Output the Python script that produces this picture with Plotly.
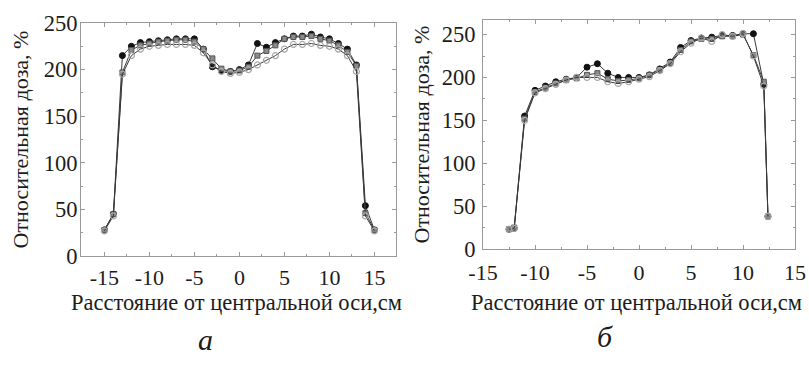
import plotly.graph_objects as go

# ---- data: panel а ----
x_a = list(range(-15, 16))
a_black = [28, 45, 215, 225, 229, 230, 231, 232, 233, 233, 233, 222, 203, 199, 198, 200,
           205, 228, 224, 229, 233, 236, 236, 238, 235, 233, 228, 222, 205, 54, 28]
a_gray = [28, 45, 197, 221, 226, 228, 230, 231, 232, 232, 230, 222, 212, 201, 198, 199,
          203, 215, 220, 226, 233, 235, 235, 236, 233, 231, 226, 219, 204, 46, 28]
a_open = [27, 43, 195, 215, 222, 225, 226, 227, 227, 227, 226, 218, 205, 198, 196, 197,
          200, 205, 210, 215, 222, 227, 227, 228, 226, 225, 222, 215, 198, 43, 27]

# ---- data: panel б ----
x_b = [-12.5, -12, -11, -10, -9, -8, -7, -6, -5, -4, -3, -2, -1, 0,
       1, 2, 3, 4, 5, 6, 7, 8, 9, 10, 11, 12, 12.4]
b_black = [23, 24, 155, 185, 190, 195, 198, 200, 212, 216, 205, 200, 200, 200,
           203, 210, 218, 235, 243, 246, 247, 249, 249, 251, 251, 192, 38]
b_gray = [23, 25, 152, 183, 188, 193, 197, 199, 203, 205, 198, 196, 197, 199,
          203, 209, 217, 232, 242, 245, 245, 248, 248, 250, 226, 195, 38]
b_open = [23, 24, 150, 182, 187, 192, 197, 200, 200, 200, 195, 193, 195, 198,
          201, 208, 216, 230, 240, 246, 242, 250, 248, 251, 225, 190, 38]

x_ticks = [-15, -10, -5, 0, 5, 10, 15]
y_ticks = [0, 50, 100, 150, 200, 250]
x_title = "Расстояние от центральной оси,см"
y_title = "Относительная доза, %"

FONT = "Times New Roman, Liberation Serif, serif"
TXT = "#1c1c1c"
LINE = "#3a3a3a"
FRAME = "#9a9a9a"

styles = [
    dict(name="1", marker=dict(symbol="circle", size=6, color="#111111",
                               line=dict(color="#111111", width=1))),
    dict(name="2", marker=dict(symbol="square", size=5, color="#8a8a8a",
                               line=dict(color="#555555", width=1))),
    dict(name="3", marker=dict(symbol="circle-open", size=6, color="#a8a8a8",
                               line=dict(color="#a8a8a8", width=1.2))),
]

fig = go.Figure()
for xs, series, xa, ya in [(x_a, [a_black, a_gray, a_open], "x", "y"),
                           (x_b, [b_black, b_gray, b_open], "x2", "y2")]:
    for st, ys in zip(styles, series):
        fig.add_trace(go.Scatter(x=xs, y=ys, mode="lines+markers", xaxis=xa, yaxis=ya,
                                 name=st["name"], showlegend=False,
                                 line=dict(color=LINE, width=1),
                                 marker=st["marker"]))

W, H = 809, 373

def px_x(p):
    return p / W

def px_y(p):
    return 1 - p / H

fig.update_layout(
    width=W, height=H, margin=dict(l=0, r=0, t=0, b=0),
    paper_bgcolor="white", plot_bgcolor="white",
    font=dict(family=FONT, color=TXT, size=22),
    xaxis=dict(domain=[px_x(81), px_x(396)], range=[-17.6, 17.4], anchor="y"),
    yaxis=dict(domain=[px_y(256), px_y(23)], range=[0, 250], anchor="x"),
    xaxis2=dict(domain=[px_x(483), px_x(795)], range=[-15, 15], anchor="y2"),
    yaxis2=dict(domain=[px_y(249), px_y(20)], range=[0, 267], anchor="x2"),
)

common = dict(showgrid=False, zeroline=False, showline=True, linecolor=FRAME,
              linewidth=1, mirror="ticks", ticks="inside", ticklen=4,
              tickcolor=FRAME, automargin=False, ticklabeloverflow="allow")
fig.update_xaxes(**common, tickvals=x_ticks, ticktext=[str(v) for v in x_ticks],
                 ticklabelstandoff=2,
                 minor=dict(ticks="inside", ticklen=2, dtick=2.5, tickcolor=FRAME))
fig.update_yaxes(**common, tickvals=y_ticks, ticktext=[str(v) for v in y_ticks],
                 ticklabelstandoff=-2,
                 minor=dict(ticks="inside", ticklen=2, dtick=25, tickcolor=FRAME))
fig.update_xaxes(tickfont=dict(family=FONT, size=22, color=TXT))
fig.update_yaxes(tickfont=dict(family=FONT, size=22.5, color=TXT))
fig.update_yaxes(title=dict(text=y_title, standoff=9,
                            font=dict(family=FONT, size=22, color=TXT)))
# panel б: its "0" and "-15" sit very close in the original; give them a little room
fig.update_layout(xaxis2_ticklabelstandoff=4, yaxis2_ticklabelstandoff=2,
                  yaxis2_title_standoff=6)

# x-axis titles placed under each panel
for cx in (236, 636):
    fig.add_annotation(text=x_title, x=px_x(cx), y=px_y(302), xref="paper", yref="paper",
                       xanchor="center", yanchor="middle", showarrow=False,
                       font=dict(family=FONT, size=22.5, color=TXT))

fig.add_annotation(text="а", x=px_x(205), y=px_y(339), xref="paper", yref="paper",
                   xanchor="center", yanchor="middle", showarrow=False,
                   font=dict(family=FONT, size=30, color=TXT, style="italic"))
fig.add_annotation(text="б", x=px_x(605), y=px_y(336), xref="paper", yref="paper",
                   xanchor="center", yanchor="middle", showarrow=False,
                   font=dict(family=FONT, size=30, color=TXT, style="italic"))

fig.write_html("out.html", config={"displayModeBar": False},
               post_script="document.body.style.margin='0';document.body.style.overflow='hidden';")
